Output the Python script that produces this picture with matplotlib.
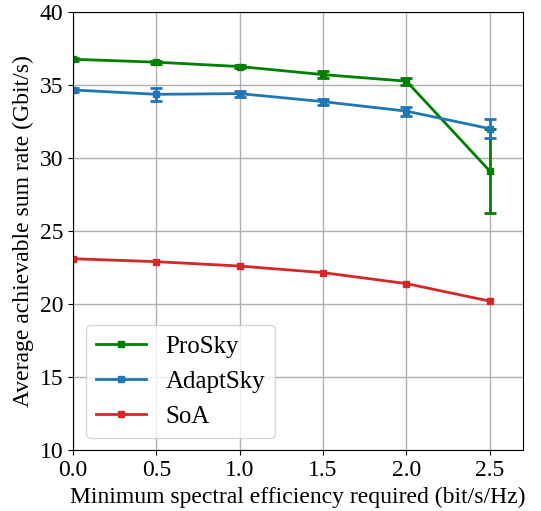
import matplotlib.pyplot as plt
import numpy as np

plt.rcParams['font.family'] = ['Liberation Serif', 'DejaVu Serif']
plt.rcParams['font.size'] = 17

x = [0.0, 0.5, 1.0, 1.5, 2.0, 2.5]
prosky = [36.75, 36.55, 36.25, 35.7, 35.25, 29.1]
prosky_err = [0.1, 0.1, 0.1, 0.25, 0.25, 2.9]
adaptsky = [34.65, 34.35, 34.4, 33.85, 33.2, 32.0]
adaptsky_err = [0.15, 0.45, 0.2, 0.2, 0.3, 0.65]
soa = [23.1, 22.9, 22.6, 22.15, 21.4, 20.2]

fig, ax = plt.subplots(figsize=(5.41, 5.11), dpi=100)
h1 = ax.errorbar(x, prosky, yerr=prosky_err, color='green', marker='s', markersize=4,
                 linewidth=2, capsize=4, capthick=2)
h2 = ax.errorbar(x, adaptsky, yerr=adaptsky_err, color='tab:blue', marker='s', markersize=4,
                 linewidth=2, capsize=4, capthick=2)
h3, = ax.plot(x, soa, color='tab:red', marker='s', markersize=4, linewidth=2)

ax.set_xlim(0, 2.7)
ax.set_ylim(10, 40)
ax.set_xticks([0.0, 0.5, 1.0, 1.5, 2.0, 2.5])
ax.set_yticks([10, 15, 20, 25, 30, 35, 40])
ax.grid(True, color='#b0b0b0', linewidth=1)
ax.set_xlabel('Minimum spectral efficiency required (bit/s/Hz)')
ax.set_ylabel('Average achievable sum rate (Gbit/s)')
ax.legend([h1[0], h2[0], h3], ['ProSky', 'AdaptSky', 'SoA'], loc='lower left',
          fontsize=18, borderaxespad=0.5)
fig.subplots_adjust(left=0.135, right=0.967, top=0.977, bottom=0.119)
fig.savefig('out.png')
plt.close()
